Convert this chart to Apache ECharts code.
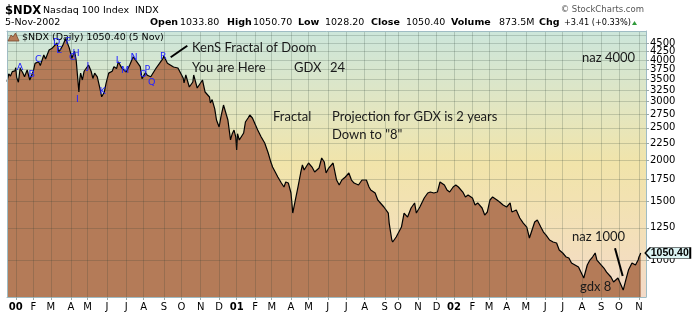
<!DOCTYPE html>
<html>
<head>
<meta charset="utf-8">
<script src="https://cdn.jsdelivr.net/npm/echarts@6/dist/echarts.min.js"></script>
<style>
html,body{margin:0;padding:0;background:#ffffff;}
#chart{width:692px;height:324px;}
</style>
</head>
<body>
<div id="chart"></div>
<script>
// Nasdaq 100 ($NDX) daily closes, sampled at turning points
const dates = [
  '1999-12-17','1999-12-21','1999-12-23','1999-12-28','1999-12-31',
  '2000-01-03','2000-01-04','2000-01-06','2000-01-10','2000-01-13','2000-01-18','2000-01-21','2000-01-26','2000-01-28',
  '2000-02-01','2000-02-03','2000-02-09','2000-02-11','2000-02-17','2000-02-22','2000-02-28',
  '2000-03-02','2000-03-06','2000-03-10','2000-03-14','2000-03-16','2000-03-21','2000-03-24','2000-03-27','2000-03-30',
  '2000-04-03','2000-04-04','2000-04-07','2000-04-11','2000-04-12','2000-04-14','2000-04-17','2000-04-18','2000-04-20','2000-04-25','2000-04-27',
  '2000-05-02','2000-05-05','2000-05-09','2000-05-11','2000-05-16','2000-05-19','2000-05-23','2000-05-26','2000-05-31',
  '2000-06-05','2000-06-09','2000-06-13','2000-06-16','2000-06-20','2000-06-26',
  '2000-07-03','2000-07-10','2000-07-14','2000-07-20','2000-07-26','2000-07-28',
  '2000-08-03','2000-08-07','2000-08-11','2000-08-21','2000-08-25','2000-08-31',
  '2000-09-01','2000-09-08','2000-09-11','2000-09-19','2000-09-26',
  '2000-10-04','2000-10-05','2000-10-09','2000-10-13','2000-10-19','2000-10-20','2000-10-26',
  '2000-11-03','2000-11-08','2000-11-15','2000-11-16','2000-11-20','2000-11-24','2000-11-28',
  '2000-12-01','2000-12-05','2000-12-08','2000-12-12','2000-12-15','2000-12-20','2000-12-22','2000-12-27','2000-12-29',
  '2001-01-02','2001-01-03','2001-01-05','2001-01-12','2001-01-17','2001-01-22','2001-01-24','2001-01-29','2001-01-31',
  '2001-02-06','2001-02-12','2001-02-16','2001-02-23','2001-02-28',
  '2001-03-02','2001-03-12','2001-03-16','2001-03-21','2001-03-23','2001-03-28',
  '2001-04-02','2001-04-04','2001-04-09','2001-04-12','2001-04-18','2001-04-20','2001-04-24',
  '2001-05-01','2001-05-07','2001-05-10','2001-05-17','2001-05-22','2001-05-25','2001-05-30',
  '2001-06-04','2001-06-11','2001-06-15','2001-06-20','2001-06-25','2001-06-29',
  '2001-07-06','2001-07-11','2001-07-16','2001-07-23','2001-07-27',
  '2001-08-03','2001-08-08','2001-08-10','2001-08-17','2001-08-22','2001-08-31',
  '2001-09-10','2001-09-17','2001-09-20','2001-09-21','2001-09-27',
  '2001-10-05','2001-10-10','2001-10-16','2001-10-22','2001-10-26','2001-10-30',
  '2001-11-05','2001-11-12','2001-11-16','2001-11-21','2001-11-28',
  '2001-12-04','2001-12-07','2001-12-14','2001-12-19','2001-12-24','2001-12-31',
  '2002-01-04','2002-01-09','2002-01-16','2002-01-22','2002-01-25',
  '2002-02-01','2002-02-06','2002-02-11','2002-02-19','2002-02-22','2002-02-27',
  '2002-03-04','2002-03-07','2002-03-14','2002-03-19','2002-03-25',
  '2002-04-01','2002-04-05','2002-04-09','2002-04-16','2002-04-22','2002-04-26',
  '2002-05-02','2002-05-07','2002-05-10','2002-05-15','2002-05-20','2002-05-24','2002-05-30',
  '2002-06-04','2002-06-10','2002-06-14','2002-06-20','2002-06-25',
  '2002-07-01','2002-07-08','2002-07-11','2002-07-16','2002-07-22','2002-07-26',
  '2002-08-05','2002-08-09','2002-08-14','2002-08-19','2002-08-22','2002-08-26',
  '2002-09-03','2002-09-06','2002-09-11','2002-09-18','2002-09-23','2002-09-30',
  '2002-10-08','2002-10-11','2002-10-16','2002-10-22','2002-10-28','2002-10-31',
  '2002-11-01','2002-11-05'
];
const closes = [
  3441,3630,3580,3690,3708,
  3790,3546,3430,3777,3660,3562,3732,3482,3520,
  3700,3908,3953,3850,4142,4030,4287,
  4330,4300,4500,4237,4300,4450,4640,4600,4350,
  4150,4047,4250,3980,3700,3207,3500,3652,3482,3700,3650,
  3864,3700,3520,3650,3560,3287,3100,3200,3403,
  3652,3700,3818,3770,3950,3780,
  3680,3864,4090,3953,3818,3515,
  3665,3600,3562,3777,3908,4047,
  4112,3908,3945,3811,3785,
  3531,3411,3605,3317,3434,3605,3294,
  3482,3204,3095,2969,3040,2850,2639,
  2514,2694,2928,2888,2639,2300,2400,2462,2342,
  2144,2400,2297,2412,2603,2676,2732,2676,2603,
  2462,2346,2250,2099,1972,
  1905,1778,1705,1659,1717,1705,
  1591,1385,1516,1659,1828,1932,1866,
  1959,1905,1840,1892,2028,1972,1828,
  1892,1959,1741,1682,1741,1778,
  1828,1741,1705,1682,1741,
  1741,1659,1625,1591,1516,1444,
  1385,1292,1149,1133,1173,
  1257,1385,1347,1434,1485,1385,
  1444,1537,1591,1602,1591,
  1602,1717,1682,1625,1602,1659,
  1682,1659,1602,1548,1569,
  1537,1464,1485,1434,1366,1395,
  1516,1548,1516,1495,1464,
  1444,1485,1395,1414,1338,1292,
  1257,1165,1231,1301,1320,1257,1214,
  1189,1149,1133,1125,1072,
  1050,1021,1014,979,966,953,
  883,966,1000,1021,1050,1000,
  966,946,920,889,859,883,
  812,871,933,979,966,1000,
  1021,1050.40
];
// right-hand price scale labels
const yTicks = [1000,1250,1500,1750,2000,2250,2500,2750,3000,3250,3500,3750,4000,4250,4500,4750];
const yMin = 774, yMax = 4890;

// exchange holidays inside the charted window
const marketHolidays = [
  '1999-12-24','2000-01-17','2000-02-21','2000-04-21','2000-05-29','2000-07-04','2000-09-04','2000-11-23','2000-12-25',
  '2001-01-01','2001-01-15','2001-02-19','2001-04-13','2001-05-28','2001-07-04','2001-09-03',
  '2001-09-11','2001-09-12','2001-09-13','2001-09-14','2001-11-22','2001-12-25',
  '2002-01-01','2002-01-21','2002-02-18','2002-03-29','2002-05-27','2002-07-04','2002-09-02'
];
const firstSession = '1999-12-17';
const lastSession = '2002-11-13';
const monthLetters = ['J','F','M','A','M','J','J','A','S','O','N','D'];

// build the trading-session calendar
const DAY = 86400000;
const iso = t => new Date(t).toISOString().slice(0, 10);
const holidaySet = new Set(marketHolidays);
const sessions = [];
for (let t = Date.parse(firstSession + 'T00:00:00Z'); t <= Date.parse(lastSession + 'T00:00:00Z'); t += DAY) {
  const wd = new Date(t).getUTCDay();
  const s = iso(t);
  if (wd === 0 || wd === 6 || holidaySet.has(s)) continue;
  sessions.push(s);
}
const sessionIdx = {};
sessions.forEach((s, i) => { sessionIdx[s] = i; });
function indexOfSession(s) {
  let t = Date.parse(s + 'T00:00:00Z');
  while (!(iso(t) in sessionIdx)) t += DAY;
  return sessionIdx[iso(t)];
}
const monthStart = sessions.map((s, i) => i > 0 && s.slice(5, 7) !== sessions[i - 1].slice(5, 7));

const lineData = new Array(sessions.length).fill(null);
dates.forEach((d, i) => { lineData[indexOfSession(d)] = Math.log(closes[i]); });
const lastClose = closes[closes.length - 1];
const lastDate = sessions[indexOfSession(dates[dates.length - 1])];

const FRAME = '#9fbcc4';
const GRIDLINE = 'rgba(40,60,50,0.2)';
const UI_FONT = 'DejaVu Sans';
const NOTE_FONT = 'Lato';

function txt(x, y, text, font, fill, align) {
  return {
    type: 'text', x: x, y: y, silent: true, z: 10,
    style: { text: text, font: font, fill: fill || '#000',
      align: align || 'left', verticalAlign: 'middle',
      textAlign: align || 'left', textVerticalAlign: 'middle' }
  };
}
function seg(x1, y1, x2, y2, w) {
  return { type: 'line', silent: true, z: 10,
    shape: { x1: x1, y1: y1, x2: x2, y2: y2 },
    style: { stroke: '#000', lineWidth: w || 2 } };
}

const headerFont = "9.5px '" + UI_FONT + "'";
const headerBold = "bold 9.5px '" + UI_FONT + "'";
const noteFont = "13px '" + NOTE_FONT + "'";
const letterFont = "9.5px '" + UI_FONT + "'";
const BLUE = '#2323ff';

const pointLetters = [
  ['A',20,68],['B',31.7,74.5],['C',38.3,59.5],['D',56.7,43],['E',59.3,51],['F',68.3,41.5],
  ['G',72.7,57.5],['H',76,54],['I',77.3,99.5],['J',88,67],['K',102.7,92],['L',118.3,61],
  ['M',125,70.5],['N',134,57.5],['O',143.3,74.5],['P',147.3,70],['Q',151.7,82.5],['R',163.3,57]
];

const graphics = [
  // title block
  txt(5, 11, '$NDX', "bold 11.5px '" + UI_FONT + "'"),
  txt(43, 11, 'Nasdaq 100 Index', headerFont),
  txt(135, 11, 'INDX', headerFont),
  txt(5, 23, '5-Nov-2002', headerFont),
  txt(150, 23, 'Open', headerBold), txt(180, 23, '1033.80', headerFont),
  txt(227, 23, 'High', headerBold), txt(253, 23, '1050.70', headerFont),
  txt(298, 23, 'Low', headerBold), txt(325, 23, '1028.20', headerFont),
  txt(371, 23, 'Close', headerBold), txt(406, 23, '1050.40', headerFont),
  txt(451, 23, 'Volume', headerBold), txt(499, 23, '873.5M', headerFont),
  txt(539, 23, 'Chg', headerBold), txt(564, 23, '+3.41 (+0.33%)', "8.2px '" + UI_FONT + "'"),
  { type: 'polygon', silent: true, z: 10, shape: { points: [[632, 25], [634.5, 21], [637, 25]] }, style: { fill: '#2f9a3a' } },
  txt(644, 10, '\u00a9 StockCharts.com', "8.5px '" + UI_FONT + "'", '#555', 'right'),
  // legend inside plot
  { type: 'polygon', silent: true, z: 10, shape: { points: [[8, 41], [11, 35], [13, 37], [15.5, 33], [19, 41]] },
    style: { fill: '#b47b58', stroke: '#7a4a2e', lineWidth: 0.8 } },
  txt(22, 37.5, '$NDX (Daily) 1050.40 (5 Nov)', "9.5px '" + UI_FONT + "'"),
  // notes
  txt(192, 48, 'KenS Fractal of Doom', noteFont, '#1a1a1a'),
  txt(192, 67.5, 'You are Here', noteFont, '#1a1a1a'),
  txt(294, 68, 'GDX', noteFont, '#1a1a1a'),
  txt(330, 68, '24', noteFont, '#1a1a1a'),
  txt(273, 117, 'Fractal', noteFont, '#1a1a1a'),
  txt(332, 117, 'Projection for GDX is 2 years', noteFont, '#1a1a1a'),
  txt(332, 135, 'Down to "8"', noteFont, '#1a1a1a'),
  txt(582, 58, 'naz 4000', noteFont, '#1a1a1a'),
  txt(572, 237, 'naz 1000', noteFont, '#1a1a1a'),
  txt(580, 287, 'gdx 8', noteFont, '#1a1a1a'),
  seg(170.7, 57.3, 187.3, 45.7, 2),
  seg(615, 248.3, 622.7, 276, 2)
];
pointLetters.forEach(p => graphics.push(txt(p[1], p[2], p[0], letterFont, BLUE, 'center')));

const chart = echarts.init(document.getElementById('chart'), null, { renderer: 'canvas' });
chart.setOption({
  animation: false,
  backgroundColor: '#ffffff',
  grid: {
    left: 7, right: 46, top: 31, bottom: 27, show: true, borderWidth: 0,
    backgroundColor: {
      type: 'linear', x: 0, y: 0, x2: 0, y2: 1,
      colorStops: [
        { offset: 0, color: '#cce6db' },
        { offset: 0.3, color: '#e3e6c0' },
        { offset: 0.5, color: '#f1e4aa' },
        { offset: 0.75, color: '#f3e0b8' },
        { offset: 1, color: '#f3dac8' }
      ]
    }
  },
  xAxis: [{
    type: 'category', data: sessions, boundaryGap: false, z: 3,
    axisLine: { show: true, lineStyle: { color: FRAME, width: 1 } },
    axisTick: { show: true, interval: i => monthStart[i], length: 3, lineStyle: { color: '#9aa' } },
    axisLabel: {
      interval: i => monthStart[i], margin: 5, color: '#000',
      fontFamily: UI_FONT, fontSize: 10,
      formatter: v => {
        const m = +v.slice(5, 7);
        return m === 1 ? '{yr|' + v.slice(2, 4) + '}' : monthLetters[m - 1];
      },
      rich: { yr: { fontFamily: UI_FONT, fontSize: 10, fontWeight: 'bold', color: '#000' } }
    },
    splitLine: { show: true, interval: i => monthStart[i], lineStyle: { color: GRIDLINE, width: 1 } }
  }, {
    type: 'category', data: sessions, boundaryGap: false, position: 'top', z: 3,
    axisLine: { show: true, lineStyle: { color: FRAME, width: 1 } },
    axisTick: { show: false }, axisLabel: { show: false }, splitLine: { show: false }
  }],
  yAxis: [{
    type: 'value', position: 'right', min: Math.log(yMin), max: Math.log(yMax), z: 3,
    axisLine: { show: true, lineStyle: { color: FRAME, width: 1 } },
    axisTick: { show: true, customValues: yTicks.map(Math.log), length: 3, lineStyle: { color: '#9aa' } },
    axisLabel: {
      customValues: yTicks.map(Math.log), margin: 4, color: '#000',
      fontFamily: UI_FONT, fontSize: 10,
      formatter: v => String(Math.round(Math.exp(v)))
    },
    splitLine: { show: true, lineStyle: { color: GRIDLINE, width: 1 } }
  }, {
    type: 'value', position: 'left', min: Math.log(yMin), max: Math.log(yMax), z: 3,
    axisLine: { show: true, lineStyle: { color: FRAME, width: 1 } },
    axisTick: { show: false }, axisLabel: { show: false }, splitLine: { show: false }
  }],
  series: [{
    type: 'line', data: lineData, xAxisIndex: 0, yAxisIndex: 0,
    connectNulls: true, showSymbol: false, symbol: 'none', z: 2,
    lineStyle: { color: '#000', width: 1.2 },
    areaStyle: { color: '#b47b58', opacity: 1 },
    markPoint: {
      silent: true, animation: false,
      symbol: 'path://M0,5 L5,0 L45,0 L45,10 L5,10 Z',
      symbolSize: [45, 11], symbolKeepAspect: false, symbolOffset: [27, 0],
      itemStyle: { color: '#dcf4f4', borderColor: '#000', borderWidth: 1 },
      label: {
        show: true, position: 'inside', offset: [2, 0], color: '#000',
        fontFamily: 'Liberation Sans', fontWeight: 'bold', fontSize: 10.5,
        formatter: () => lastClose.toFixed(2)
      },
      data: [{ coord: [lastDate, Math.log(lastClose)] }]
    }
  }],
  graphic: graphics
});
</script>
</body>
</html>
